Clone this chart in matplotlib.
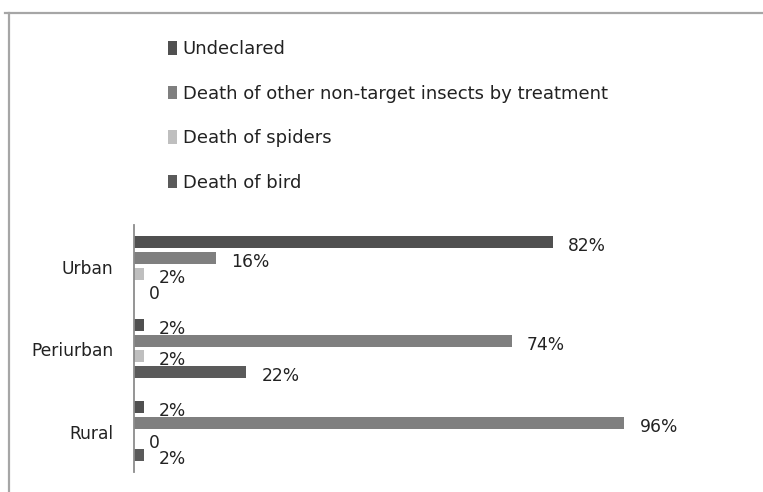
import matplotlib
matplotlib.use("Agg")
import matplotlib.pyplot as plt
import matplotlib.transforms as mtransforms
from matplotlib.patches import Patch
from matplotlib.lines import Line2D
import numpy as np

plt.rcParams['font.family'] = ['DejaVu Sans']

categories = ["Urban", "Periurban", "Rural"]
series_names = [
    "Undeclared",
    "Death of other non-target insects by treatment",
    "Death of spiders",
    "Death of bird",
]
undeclared = [82, 2, 2]
other_insects = [16, 74, 96]
spiders = [2, 2, 0]
bird = [0, 22, 2]
series_values = [undeclared, other_insects, spiders, bird]
series_colors = ["#505050", "#7f7f7f", "#bfbfbf", "#5a5a5a"]

W, H = 763, 492
fig = plt.figure(figsize=(W / 100, H / 100), dpi=100)

# plot area in pixel terms
x0, x1 = 134, 747
y_top, y_bot = 225, 472
ax = fig.add_axes([x0 / W, (H - y_bot) / H, (x1 - x0) / W, (y_bot - y_top) / H])

slot = 0.194
bar_h = 0.146
n = len(series_values)
for j, (vals, col) in enumerate(zip(series_values, series_colors)):
    ys = np.arange(len(categories)) + (j - (n - 1) / 2) * slot
    ax.barh(ys, vals, height=bar_h, color=col, edgecolor="none")
    for y, v in zip(ys, vals):
        txt = f"{v}%" if v != 0 else "0"
        ax.annotate(txt, xy=(v, y), xytext=(15, -4), textcoords="offset pixels",
                    ha="left", va="center", fontsize=12.3, color="#222222")

ax.set_xlim(0, 120)
ax.set_ylim(2.5, -0.5)
ax.set_yticks(range(len(categories)))
ax.set_yticklabels(categories, fontsize=12.3, color="#222222")
ax.tick_params(axis="y", length=0, pad=15)
ax.tick_params(axis="x", bottom=False, labelbottom=False)
for s in ["top", "right", "bottom"]:
    ax.spines[s].set_visible(False)
ax.spines["left"].set_color("#8c8c8c")
ax.spines["left"].set_linewidth(1.3)
shift = mtransforms.ScaledTranslation(0, -3 / 100, fig.dpi_scale_trans)
for lab in ax.get_yticklabels():
    lab.set_va("center")
    lab.set_transform(lab.get_transform() + shift)

handles = [Patch(facecolor=c, edgecolor="none") for c in series_colors]
fig.legend(handles, series_names, loc="upper left",
           bbox_to_anchor=(152 / W, 1 - 24 / H), frameon=False,
           fontsize=13, handlelength=0.5, handleheight=0.75,
           handletextpad=0.3, labelspacing=1.47, labelcolor="#222222")

# outer frame (top and left edges)
fig.add_artist(Line2D([5 / W, 1], [1 - 13 / H, 1 - 13 / H], transform=fig.transFigure,
                      color="#a6a6a6", linewidth=1.6))
fig.add_artist(Line2D([9 / W, 9 / W], [0, 1 - 13 / H], transform=fig.transFigure,
                      color="#a6a6a6", linewidth=1.6))

fig.savefig("out.png", dpi=100, facecolor="white")
